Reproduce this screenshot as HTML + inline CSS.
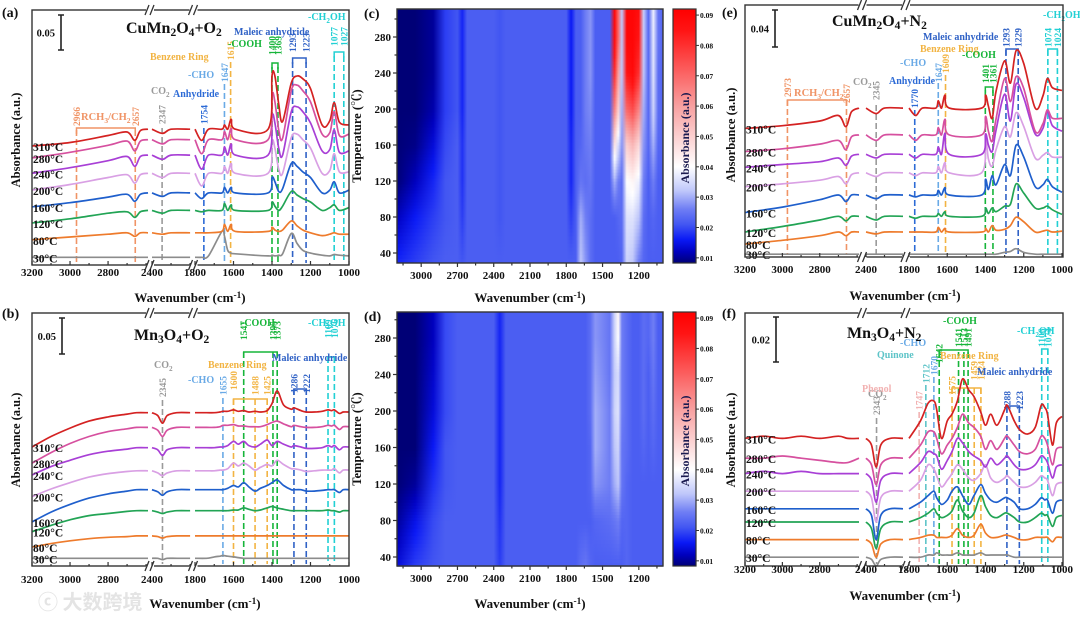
<!DOCTYPE html>
<html><head><meta charset="utf-8">
<style>
html,body{margin:0;padding:0;background:#fff;}
svg{display:block;font-family:"Liberation Serif","Noto Serif CJK SC",serif;font-weight:bold;}
</style></head>
<body>
<svg id="fig" width="1080" height="618" viewBox="0 0 1080 618" xmlns="http://www.w3.org/2000/svg">
<rect x="0" y="0" width="1080" height="618" fill="#fff"/>
<defs id="defs"></defs>
</svg>
<script>
// ---------- spectral data (milli-absorbance units) ----------
const GRID_A = [3200,3000,2800,2700,2660,2630,2590, 2400,2345,2300,2200, 1800,1765,1730,1660,1647,1630,1612,1590,1420,1400,1385,1365,1345,1300,1270,1240,1200,1140,1100,1077,1050,1000];
const GRID_B = [3200,3100,3000,2900,2800,2700,2650,2590, 2400,2370,2345,2320,2270,2200, 1800,1740,1700,1670,1655,1630,1600,1575,1547,1520,1488,1460,1425,1400,1373,1340,1300,1286,1250,1222,1180,1140,1109,1090,1076,1050,1030,1000];
const TEMP_LABELS = ['30°C','80°C','120°C','160°C','200°C','240°C','280°C','310°C'];

// (a) CuMn2O4 + O2
const PA_30  = [0,0,0,0,0,0,0, 0,0,0,0, 0,0,2,37,30,10,6,5,2,3,2,3,5,34,20,10,6,3,2,4,3,2];
const PA_80  = [0,4,8,10,5,10,10, 10,8,10,10, 10,10,10,12,22,12,22,12,12,18,14,12,14,27,20,14,10,6,8,10,8,8];
const PA_120 = [0,6,14,16,8,16,18, 18,14,18,18, 18,16,18,18,28,18,26,18,18,30,24,18,24,45,40,35,30,18,22,26,18,22];
const PA_160 = [0,6,14,18,8,18,20, 20,15,20,20, 20,12,20,20,28,20,28,20,20,42,36,22,26,62,58,50,42,20,24,36,20,24];
const PA_200 = [0,8,18,22,10,22,24, 24,18,24,24, 24,6,24,24,34,24,38,24,24,70,60,30,24,75,80,72,60,24,28,52,26,26];
const PA_240 = [0,8,18,24,10,24,26, 26,20,26,26, 26,6,26,26,38,26,42,26,26,82,72,36,26,88,95,88,72,32,34,62,30,32];
const PA_280 = [0,8,18,24,10,24,26, 26,20,26,26, 26,6,26,26,38,26,42,26,26,90,80,40,28,96,104,96,80,34,36,66,32,34];
const PA_310 = [0,5,15,20,8,22,24, 24,18,24,24, 24,8,24,24,30,24,38,24,24,100,100,60,35,90,100,96,82,30,36,62,34,30];
const PA_OFFSETS = [11,36,60,83,107,131,153,170];

// (b) Mn3O4 + O2
const PB_30  = [0,0,0,0,0,0,0,0, 0,0,-2,0,0,0, 0,0,2,3,4,3,2,1,0,0,0,0,0,0,0,0,0,0,0,0,0,0,0,0,0,0,0,0];
const PB_80  = [0,5,9,12,14,15,16,16, 16,15,13,15,16,16, 16,16,16,16,16,16,16,16,16,16,16,16,16,16,16,16,16,16,16,16,16,16,16,16,16,16,16,16];
const PB_120 = [0,9,17,23,26,29,30,30, 30,28,26,28,30,30, 30,30,30,30,30,30,31,31,34,32,30,31,34,36,34,32,30,30,30,30,30,30,31,30,30,28,30,30];
const PB_160 = [0,14,25,34,40,44,46,46, 46,43,38,43,46,46, 46,46,46,46,46,48,52,50,56,50,44,48,52,56,60,52,46,46,46,44,44,45,46,46,46,42,46,46];
const PB_200 = [0,11,20,28,33,36,37,37, 37,34,30,34,37,37, 37,37,37,38,38,40,48,44,48,44,38,42,46,44,52,46,40,40,38,36,37,38,38,38,40,34,38,38];
const PB_240 = [0,12,21,29,34,37,39,39, 39,36,28,36,39,39, 39,39,39,40,40,42,48,44,48,42,40,44,50,42,48,44,40,42,40,38,38,39,42,40,42,36,40,40];
const PB_280 = [0,15,28,38,45,49,51,51, 51,47,38,47,51,51, 51,51,51,52,54,54,55,53,53,52,52,52,55,58,60,56,52,54,52,51,51,52,54,53,54,48,52,52];
const PB_310 = [0,15,27,37,43,47,49,49, 49,45,34,45,49,49, 49,49,49,50,51,51,53,51,52,50,51,50,52,62,80,60,54,56,52,50,50,51,53,52,53,48,50,50];
const PB_OFFSETS = [11,27,49,63,99,130,147,170];

// (e) CuMn2O4 + N2
const PE_30  = [0,0,0,0,0,0,0, 0,0,0,0, 0,0,0,0,0,0,0,0,0,0,0,0,0,2,3,6,2,0,0,0,0,0];
const PE_80  = [0,4,9,13,9,13,13, 13,11,13,13, 13,13,13,13,18,13,17,13,13,17,13,20,15,16,20,29,24,13,14,15,13,14];
const PE_120 = [0,6,13,17,12,17,17, 17,13,17,17, 17,15,17,17,20,17,22,17,17,26,20,26,22,28,30,52,42,26,26,28,24,19];
const PE_160 = [0,6,14,19,12,19,19, 19,15,19,19, 19,17,19,19,24,19,27,19,19,36,25,40,30,52,40,73,60,28,30,36,28,22];
const PE_200 = [0,3,7,11,3,13,15, 15,11,15,15, 15,12,15,15,22,15,26,15,15,51,30,22,40,65,54,80,65,31,34,37,32,32];
const PE_240 = [0,3,6,10,2,12,14, 14,10,14,14, 14,10,14,14,22,14,37,14,14,36,24,17,40,79,50,90,75,36,42,60,45,39];
const PE_280 = [0,3,8,12,2,16,18, 18,12,18,18, 18,12,18,18,26,18,35,18,18,38,22,11,35,79,54,81,68,22,30,45,36,36];
const PE_310 = [0,3,8,14,2,18,22, 22,16,22,22, 22,14,22,22,30,22,36,22,22,36,24,11,40,73,49,84,70,22,35,54,44,41];
const PE_OFFSETS = [3,14,27,48,76,97,114,139];

// (f) Mn3O4 + N2
const PF_30  = [0,0,0,0,0,0,0,0, 0,-1,-4,-1,0,0, 0,0,1,1,2,1,1,1,2,1,1,1,2,1,1,1,1,1,0,0,0,0,0,0,0,0,0,0];
const PF_80  = [0,0,0,0,0,0,0,0, 0,-2,-8,-2,0,0, 0,1,2,2,1,1,1,2,5,2,1,2,7,3,1,1,2,2,1,0,0,1,1,1,1,-1,1,1];
const PF_120 = [0,0,0,0,0,0,0,0, 0,-3,-12,-3,0,0, 0,2,4,6,4,2,3,5,10,5,2,4,12,7,3,2,4,4,2,0,0,2,4,3,3,-2,2,3];
const PF_160 = [0,0,0,0,0,0,0,0, 0,-3,-14,-3,0,0, 0,3,6,8,5,2,4,8,10,6,2,6,11,7,4,3,5,5,3,0,0,2,5,4,4,-2,3,4];
const PF_200 = [0,0,0,0,0,0,0,0, 0,-3,-14,-3,0,0, 0,5,12,10,7,2,5,8,12,10,6,5,8,12,6,4,6,7,4,2,2,4,7,6,5,-2,3,4];
const PF_240 = [0,1,0,1,0,0,0,0, 0,-3,-13,-3,0,0, 0,5,10,9,8,2,6,10,16,14,10,8,6,3,7,4,7,8,4,2,2,4,8,7,5,-2,3,4];
const PF_280 = [0,0,1,0,-1,-2,-2,0, 0,-3,-12,-3,0,0, 0,6,12,12,9,2,6,9,14,20,16,14,10,4,8,4,9,10,6,3,2,4,10,9,6,-3,4,5];
const PF_310 = [0,1,0,1,0,1,0,0, 0,-3,-13,-3,0,0, 0,8,16,17,13,0,8,11,17,27,22,19,12,6,11,6,13,15,8,4,2,5,15,14,11,-3,7,10];
const PF_OFFSETS = [4,12,20,26,34,42,49,58];

// ---------- heatmap data (a.u.) ----------
const HM_COLS = [3200,3050,2900,2800,2700,2660,2620,2400,2350,2300,1800,1760,1720,1680,1640,1600,1560,1440,1400,1370,1340,1300,1250,1200,1160,1120,1080,1040,1000];
const HM_TEMPS = [30,80,120,160,200,240,280,310];
const HC_30  = [.017,.019,.021,.022,.022,.021,.022,.022,.022,.022,.022,.022,.022,.032,.028,.024,.022,.022,.022,.022,.023,.034,.032,.026,.023,.022,.022,.022,.022];
const HC_80  = [.012,.016,.019,.021,.022,.019,.022,.022,.021,.022,.022,.019,.022,.030,.026,.024,.022,.022,.022,.023,.024,.036,.036,.032,.024,.022,.023,.022,.022];
const HC_120 = [.008,.012,.017,.021,.022,.018,.022,.022,.021,.022,.022,.017,.022,.025,.024,.025,.022,.022,.030,.026,.024,.040,.042,.038,.026,.022,.026,.022,.022];
const HC_160 = [.008,.009,.014,.020,.022,.018,.022,.022,.021,.022,.022,.017,.022,.023,.025,.026,.022,.022,.045,.035,.028,.050,.055,.048,.028,.023,.030,.023,.023];
const HC_200 = [.008,.008,.011,.019,.021,.017,.022,.022,.021,.022,.022,.016,.022,.022,.026,.027,.022,.022,.065,.050,.030,.070,.075,.065,.030,.023,.034,.024,.023];
const HC_240 = [.008,.008,.010,.019,.021,.017,.022,.022,.021,.022,.022,.016,.022,.022,.026,.028,.022,.022,.080,.060,.032,.085,.090,.080,.032,.023,.036,.024,.023];
const HC_280 = [.008,.008,.010,.019,.021,.017,.022,.022,.021,.022,.022,.016,.022,.022,.026,.028,.022,.022,.090,.070,.032,.092,.092,.085,.033,.023,.037,.025,.023];
const HC_310 = [.008,.008,.010,.019,.021,.017,.022,.022,.021,.022,.022,.016,.022,.022,.026,.028,.022,.022,.092,.070,.032,.092,.092,.088,.033,.023,.038,.025,.023];
const HD_30  = [.014,.019,.021,.022,.022,.022,.022,.022,.019,.022,.022,.022,.022,.024,.025,.023,.022,.022,.022,.022,.022,.023,.022,.022,.022,.022,.022,.022,.022];
const HD_80  = [.010,.015,.020,.022,.022,.022,.022,.022,.018,.022,.022,.022,.022,.022,.022,.022,.023,.024,.025,.026,.023,.023,.022,.022,.022,.022,.022,.022,.022];
const HD_120 = [.008,.010,.018,.021,.022,.022,.022,.022,.017,.022,.022,.022,.022,.022,.022,.023,.028,.026,.030,.032,.025,.023,.022,.022,.022,.022,.022,.022,.022];
const HD_160 = [.008,.008,.016,.021,.022,.022,.022,.022,.017,.022,.022,.022,.022,.022,.022,.023,.030,.026,.032,.034,.025,.024,.022,.022,.023,.022,.023,.022,.022];
const HD_200 = [.008,.008,.014,.020,.022,.022,.022,.022,.017,.022,.022,.022,.022,.022,.022,.024,.030,.026,.034,.036,.026,.024,.022,.022,.024,.022,.024,.022,.022];
const HD_240 = [.008,.008,.013,.020,.022,.022,.022,.022,.017,.022,.022,.022,.022,.022,.022,.024,.029,.025,.033,.035,.026,.024,.022,.022,.024,.022,.025,.022,.022];
const HD_280 = [.008,.008,.012,.020,.022,.022,.022,.022,.017,.022,.022,.022,.022,.022,.022,.024,.028,.025,.034,.040,.026,.024,.022,.022,.024,.023,.026,.022,.022];
const HD_310 = [.008,.008,.012,.020,.022,.022,.022,.022,.017,.022,.022,.022,.022,.022,.022,.024,.028,.025,.034,.042,.026,.024,.022,.022,.024,.023,.026,.022,.022];
const CB_TICKS = [0.01,0.02,0.03,0.04,0.05,0.06,0.07,0.08,0.09];
const HM_XTICKS = [3000,2700,2400,2100,1800,1500,1200];
const HM_YTICKS = [40,80,120,160,200,240,280];
const SPEC_XTICKS = [3200,3000,2800,2400,1800,1600,1400,1200,1000];

// ---------- helpers ----------
const NS='http://www.w3.org/2000/svg';
const svg=document.getElementById('fig');
const defs=document.getElementById('defs');
function el(tag,attrs,parent){const e=document.createElementNS(NS,tag);for(const k in attrs)e.setAttribute(k,attrs[k]);(parent||svg).appendChild(e);return e;}
function rich(str,attrs,parent){
  const t=el('text',attrs,parent);
  const re=/_(.)|\^\{([^}]*)\}/g; let last=0,m,shift=0;
  const add=(s,kind)=>{ if(!s)return; const ts=el('tspan',{},t); let dy=0;
    if(kind==='sub'){dy=3-shift;shift=3;ts.setAttribute('font-size','0.72em');}
    else if(kind==='sup'){dy=-4-shift;shift=-4;ts.setAttribute('font-size','0.72em');}
    else {dy=-shift;shift=0;}
    if(dy)ts.setAttribute('dy',dy); ts.textContent=s; };
  while((m=re.exec(str))){ add(str.slice(last,m.index),'n'); if(m[1]!==undefined)add(m[1],'sub'); else add(m[2],'sup'); last=m.index+m[0].length; }
  add(str.slice(last),'n');
  return t;
}
function smooth(pts){
  if(!pts.length)return '';
  let d='M'+pts[0][0].toFixed(1)+','+pts[0][1].toFixed(1);
  for(let i=0;i<pts.length-1;i++){
    const p0=pts[i-1]||pts[i],p1=pts[i],p2=pts[i+1],p3=pts[i+2]||p2;
    const c1=[p1[0]+(p2[0]-p0[0])/6,p1[1]+(p2[1]-p0[1])/6];
    const c2=[p2[0]-(p3[0]-p1[0])/6,p2[1]-(p3[1]-p1[1])/6];
    d+='C'+c1[0].toFixed(1)+','+c1[1].toFixed(1)+' '+c2[0].toFixed(1)+','+c2[1].toFixed(1)+' '+p2[0].toFixed(1)+','+p2[1].toFixed(1);
  }
  return d;
}
const COLORS=['#8c8c8c','#ee7b2c','#22a455','#1f5fcc','#d9a0e4','#a83fd6','#d6509f','#d42222'];
const C={salmon:'#f09466',gray:'#9a9a9a',blue:'#2d6bd6',lblue:'#6aaae6',yellow:'#f2b443',green:'#17b53a',mblue:'#3062c6',cyan:'#22d0d4',pink:'#f2b2b2',teal:'#5ec4c8'};

// ---------- spectral panel ----------
function spec(P){
  const g=el('g',{});
  
  
  const segIdx=wn=>P.segs.findIndex(s=>wn<=s[0]&&wn>=s[1]);
  const xOf=wn=>{const s=P.segs[segIdx(wn)];return s[2]+(s[0]-wn)/(s[0]-s[1])*(s[3]-s[2]);};
  const yOf=v=>P.bottom-v*P.scale;
  P.ann.forEach(a=>{
    const x=xOf(a[0]);
    const ln=el('line',{x1:x,x2:x,y1:a[3],y2:P.bottom-2,stroke:C[a[1]],'stroke-width':1.6,'stroke-dasharray':'6,3'},g);
    
    
    const t=el('text',{x:x+3.5,y:a[2],transform:'rotate(-90 '+(x+3.5)+' '+a[2]+')','font-size':9.5,fill:C[a[1]]},g);
    t.textContent=String(a[0]);
    
    
  });
  P.brackets.forEach(b=>{
    const x1=xOf(b[0]),x2=xOf(b[1]);
    const p=el('path',{d:'M'+x1+','+(b[2]+6)+'V'+b[2]+'H'+x2+'V'+(b[2]+6),fill:'none',stroke:C[b[3]],'stroke-width':1.5},g);
    
    
  });
  P.groups.forEach(q=>{
    const t=rich(q[0],{x:q[1],y:q[2],'font-size':q[4]||10,fill:C[q[3]]},g);
    
    
  });
  P.series.forEach((arr,i)=>{
    const off=P.offsets[i];
    const pieces=[[]];let cur=segIdx(P.grid[0]);
    P.grid.forEach((wn,j)=>{const s=segIdx(wn);if(s!==cur){pieces.push([]);cur=s;}pieces[pieces.length-1].push([xOf(wn),yOf(off+arr[j])]);});
    const p=el('path',{d:pieces.map(smooth).join(''),fill:'none',stroke:COLORS[i],'stroke-width':1.7,'stroke-linejoin':'round'},g);
    
    
    const t=el('text',{x:P.left+1,y:yOf(off)+5,'font-size':11.5,fill:'#111'},g);
    t.textContent=TEMP_LABELS[i];
    
    
  });
  const fr=el('rect',{x:P.left,y:P.top,width:P.right-P.left,height:P.bottom-P.top,fill:'none',stroke:'#333','stroke-width':1.4},g);
  
  
  for(let b=0;b<2;b++){
    const xb=(P.segs[b][3]+P.segs[b+1][2])/2;
    [P.top,P.bottom].forEach(yy=>{
      const w=el('rect',{x:xb-4,y:yy-2,width:8,height:4,fill:'#fff'},g);
      
      
      [-3,2].forEach(dx=>{const s=el('line',{x1:xb+dx-2,y1:yy+5,x2:xb+dx+2,y2:yy-5,stroke:'#333','stroke-width':1.3},g);
        
        });
    });
  }
  for(let wn=3200;wn>=1000;wn-=100){
    if(segIdx(wn)<0)continue;
    const x=xOf(wn);const major=SPEC_XTICKS.includes(wn);
    const tk=el('line',{x1:x,x2:x,y1:P.bottom,y2:P.bottom-(major?4:2),stroke:'#333','stroke-width':1.2},g);
    
    
  }
  SPEC_XTICKS.forEach(wn=>{
    const x=xOf(wn);
    const t=el('text',{x:x,y:P.tickY,'font-size':11,'text-anchor':'middle',fill:'#111'},g);
    t.textContent=String(wn);
    
    
  });
  const xl=rich('Wavenumber (cm^{-1})',{x:P.xlX,y:P.xlY,'font-size':13,'text-anchor':'middle',fill:'#111'},g);
  
  
  const yl=el('text',{x:P.ylX,y:P.ylY,'font-size':12.5,'text-anchor':'middle',fill:'#111',transform:'rotate(-90 '+P.ylX+' '+P.ylY+')'},g);
  yl.textContent='Absorbance (a.u.)';
  
  
  const tt=rich(P.title,{x:P.titleX,y:P.titleY,'font-size':16,fill:'#111'},g);
  
  
  const sb=el('path',{d:'M'+(P.sbX-3)+','+P.sbY0+'H'+(P.sbX+3)+'M'+P.sbX+','+P.sbY0+'V'+P.sbY1+'M'+(P.sbX-3)+','+P.sbY1+'H'+(P.sbX+3),stroke:'#222','stroke-width':1.6,fill:'none'},g);
  
  
  const sbt=el('text',{x:P.sbX-6,y:(P.sbY0+P.sbY1)/2+4,'font-size':10.5,'text-anchor':'end',fill:'#111'},g);
  sbt.textContent=P.sbLabel;
  
  
  const lt=el('text',{x:P.letterX,y:P.letterY,'font-size':14,fill:'#111'},g);
  lt.textContent=P.letter;
  
  
}

const SEG_L=[[3200,2590,32,148],[2400,2190,152,192],[1800,1000,195,349]];
const SEG_R=[[3200,2590,745,859],[2400,2200,866,903],[1800,1000,909,1062]];

spec({name:'panel-a',letter:'(a)',letterX:2,letterY:17,grid:GRID_A,series:[PA_30,PA_80,PA_120,PA_160,PA_200,PA_240,PA_280,PA_310],offsets:PA_OFFSETS,
  segs:SEG_L,left:32,right:349,top:10,bottom:265,scale:0.7,tickY:276,xlX:190,xlY:302,ylX:20,ylY:140,
  title:'CuMn_2O_4+O_2',titleX:126,titleY:33,sbX:61,sbY0:15,sbY1:50,sbLabel:'0.05',
  ann:[[2966,'salmon',126,130],[2657,'salmon',126,130],[2347,'gray',124,128],[1754,'blue',124,128],[1647,'lblue',82,84],[1615,'yellow',60,62],[1400,'green',55,67],[1369,'green',55,67],[1293,'mblue',52,62],[1223,'mblue',52,62],[1077,'cyan',46,56],[1027,'cyan',46,56]],
  brackets:[[2966,2657,128,'salmon'],[1400,1369,63,'green'],[1293,1223,58,'mblue'],[1077,1027,52,'cyan']],
  groups:[['RCH_3/CH_2',81,120,'salmon',10.5],['CO_2',151,94,'gray'],['Anhydride',173,97,'blue'],['-CHO',188,78,'lblue'],['Benzene Ring',150,60,'yellow'],['-COOH',228,47,'green'],['Maleic anhydride',234,35,'mblue'],['-CH_2OH',308,20,'cyan']]});

spec({name:'panel-b',letter:'(b)',letterX:2,letterY:318,grid:GRID_B,series:[PB_30,PB_80,PB_120,PB_160,PB_200,PB_240,PB_280,PB_310],offsets:PB_OFFSETS,
  segs:SEG_L,left:32,right:349,top:313,bottom:566,scale:0.7,tickY:583,xlX:205,xlY:608,ylX:20,ylY:440,
  title:'Mn_3O_4+O_2',titleX:134,titleY:340,sbX:62,sbY0:318,sbY1:354,sbLabel:'0.05',
  ann:[[2345,'gray',397,400],[1655,'lblue',395,398],[1600,'yellow',390,399],[1547,'green',340,352],[1488,'yellow',395,399],[1425,'yellow',395,399],[1395,'green',340,352],[1373,'green',340,352],[1286,'mblue',393,389],[1222,'mblue',393,389],[1109,'cyan',338,357],[1076,'cyan',338,357]],
  brackets:[[1600,1425,399,'yellow'],[1547,1373,352,'green'],[1286,1222,389,'mblue'],[1109,1076,357,'cyan']],
  groups:[['CO_2',154,368,'gray'],['-CHO',188,383,'lblue'],['Benzene Ring',208,368,'yellow'],['-COOH',241,326,'green'],['Maleic anhydride',272,361,'mblue'],['-CH_2OH',308,326,'cyan']]});

spec({name:'panel-e',letter:'(e)',letterX:722,letterY:17,grid:GRID_A,series:[PE_30,PE_80,PE_120,PE_160,PE_200,PE_240,PE_280,PE_310],offsets:PE_OFFSETS,
  segs:SEG_R,left:745,right:1063,top:5,bottom:257,scale:0.925,tickY:273,xlX:905,xlY:300,ylX:735,ylY:135,
  title:'CuMn_2O_4+N_2',titleX:832,titleY:26,sbX:775,sbY0:10,sbY1:47,sbLabel:'0.04',
  ann:[[2973,'salmon',97,100],[2657,'salmon',103,100],[2345,'gray',100,105],[1770,'blue',108,110],[1647,'lblue',82,83],[1609,'yellow',73,75],[1401,'green',83,90],[1361,'green',83,90],[1293,'mblue',47,50],[1229,'mblue',47,50],[1074,'cyan',47,50],[1024,'cyan',47,50]],
  brackets:[[2973,2657,100,'salmon'],[1401,1361,87,'green'],[1293,1229,49,'mblue'],[1074,1024,49,'cyan']],
  groups:[['RCH_3/CH_2',794,96,'salmon',10.5],['CO_2',853,85,'gray'],['Anhydride',889,84,'blue'],['-CHO',900,66,'lblue'],['Benzene Ring',920,52,'yellow'],['-COOH',962,58,'green'],['Maleic anhydride',923,40,'mblue'],['-CH_2OH',1043,18,'cyan']]});

spec({name:'panel-f',letter:'(f)',letterX:722,letterY:318,grid:GRID_B,series:[PF_30,PF_80,PF_120,PF_160,PF_200,PF_240,PF_280,PF_310],offsets:PF_OFFSETS,
  segs:SEG_R,left:745,right:1063,top:313,bottom:566,scale:2.2,tickY:573,xlX:905,xlY:600,ylX:735,ylY:440,
  title:'Mn_3O_4+N_2',titleX:847,titleY:338,sbX:776,sbY0:317,sbY1:362,sbLabel:'0.02',
  ann:[[2343,'gray',415,418],[1747,'pink',410,412],[1712,'teal',383,385],[1670,'lblue',375,377],[1642,'green',363,352],[1541,'green',347,352],[1513,'green',347,352],[1491,'green',347,352],[1575,'yellow',395,388],[1459,'yellow',380,388],[1424,'yellow',380,388],[1288,'mblue',410,407],[1223,'mblue',410,407],[1106,'cyan',347,349],[1074,'cyan',347,349]],
  brackets:[[1642,1491,350,'green'],[1575,1424,388,'yellow'],[1288,1223,406,'mblue'],[1106,1074,349,'cyan']],
  groups:[['CO_2',868,397,'gray'],['Phenol',862,392,'pink'],['Quinone',877,358,'teal'],['-CHO',900,346,'lblue'],['-COOH',943,324,'green'],['Benzene Ring',940,359,'yellow'],['Maleic anhydride',977,375,'mblue'],['-CH_2OH',1017,334,'cyan']]});

// ---------- heatmaps ----------
const CMAP=[[0.008,[0,0,118]],[0.012,[0,0,190]],[0.016,[10,25,245]],[0.021,[66,86,242]],[0.026,[110,125,244]],[0.032,[190,198,250]],[0.04,[255,255,255]],[0.06,[248,160,160]],[0.085,[255,20,20]],[0.095,[255,0,0]]];
function cmap(v){
  if(v<=CMAP[0][0])return 'rgb('+CMAP[0][1].join(',')+')';
  for(let i=1;i<CMAP.length;i++){if(v<=CMAP[i][0]){const a=CMAP[i-1],b=CMAP[i];const f=(v-a[0])/(b[0]-a[0]);return 'rgb('+a[1].map((c,k)=>Math.round(c+(b[1][k]-c)*f)).join(',')+')';}}
  return 'rgb(255,0,0)';
}
let gid=0;
function heat(H){
  const g=el('g',{});
  
  
  const X0=397,X1=663;
  const xOf=wn=>X0+(3200-wn)/2200*(X1-X0);
  const yOf=t=>H.y40-(t-40)*H.ty;
  const rows=H.rows;
  const bands=[];
  bands.push([29,30,rows[0]]);
  for(let i=0;i<HM_TEMPS.length-1;i++){
    const n=12;
    for(let k=0;k<n;k++){
      const f=(k+0.5)/n;
      const vals=rows[i].map((v,j)=>v+(rows[i+1][j]-v)*f);
      bands.push([HM_TEMPS[i]+(HM_TEMPS[i+1]-HM_TEMPS[i])*k/n,HM_TEMPS[i]+(HM_TEMPS[i+1]-HM_TEMPS[i])*(k+1)/n,vals]);
    }
  }
  bands.push([310,312,rows[rows.length-1]]);
  bands.forEach(b=>{
    const id='hg'+(gid++);
    const lg=el('linearGradient',{id:id,x1:0,y1:0,x2:1,y2:0},defs);
    HM_COLS.forEach((wn,j)=>{el('stop',{offset:((xOf(wn)-X0)/(X1-X0)).toFixed(4),'stop-color':cmap(b[2][j])},lg);});
    const ya=Math.max(yOf(b[1]),H.top),yb=Math.min(yOf(b[0]),H.bottom);
    const r=el('rect',{x:X0,y:ya.toFixed(2),width:X1-X0,height:(yb-ya+0.6).toFixed(2),fill:'url(#'+id+')'},g);
    
    
  });
  const fr=el('rect',{x:X0,y:H.top,width:X1-X0,height:H.bottom-H.top,fill:'none',stroke:'#333','stroke-width':1.4},g);
  
  
  for(let wn=3150;wn>=1050;wn-=150){
    const x=xOf(wn);const major=HM_XTICKS.includes(wn);
    const tk=el('line',{x1:x,x2:x,y1:H.bottom,y2:H.bottom+(major?4:2.5),stroke:'#333','stroke-width':1.2},g);
    
    
  }
  HM_XTICKS.forEach(wn=>{const t=el('text',{x:xOf(wn),y:H.bottom+16,'font-size':11,'text-anchor':'middle',fill:'#111'},g);t.textContent=String(wn);
    
    });
  for(let t=40;t<=300;t+=20){
    const y=yOf(t);const major=HM_YTICKS.includes(t);
    const tk=el('line',{x1:X0,x2:X0-(major?4:2.5),y1:y,y2:y,stroke:'#333','stroke-width':1.2},g);
    
    
  }
  HM_YTICKS.forEach(t=>{const tx=el('text',{x:X0-6,y:yOf(t)+4,'font-size':11,'text-anchor':'end',fill:'#111'},g);tx.textContent=String(t);
    
    });
  const xl=rich('Wavenumber (cm^{-1})',{x:530,y:H.xlY,'font-size':13,'text-anchor':'middle',fill:'#111'},g);
  
  
  const cy=(H.top+H.bottom)/2;
  const yl=el('text',{x:361,y:cy,'font-size':12.5,'text-anchor':'middle',fill:'#111',transform:'rotate(-90 361 '+cy+')'},g);
  yl.textContent='Temperature (℃)';
  
  
  const cid='cb'+(gid++);
  const cg=el('linearGradient',{id:cid,x1:0,y1:1,x2:0,y2:0},defs);
  const vmin=0.0083,vmax=0.092;
  CMAP.forEach(s=>{const o=Math.min(1,Math.max(0,(s[0]-vmin)/(vmax-vmin)));el('stop',{offset:o.toFixed(4),'stop-color':'rgb('+s[1].join(',')+')'},cg);});
  const cb=el('rect',{x:673,y:H.top,width:23,height:H.bottom-H.top,fill:'url(#'+cid+')',stroke:'#333','stroke-width':1.2},g);
  
  
  CB_TICKS.forEach(v=>{
    const y=H.bottom-(v-vmin)/(vmax-vmin)*(H.bottom-H.top);
    const tk=el('line',{x1:696,x2:699,y1:y,y2:y,stroke:'#333','stroke-width':1},g);
    
    
    const tx=el('text',{x:700,y:y+3,'font-size':7.5,fill:'#111'},g);
    tx.textContent=v.toFixed(2);
    
    
  });
  const cl=el('text',{x:689,y:cy+2,'font-size':12,'text-anchor':'middle',fill:'#1a1a50',transform:'rotate(-90 689 '+(cy+2)+')'},g);
  cl.textContent='Absorbance (a.u.)';
  
  
  const lt=el('text',{x:364,y:H.top+9,'font-size':14,fill:'#111'},g);
  lt.textContent=H.letter;
  
  
}
heat({name:'panel-c',letter:'(c)',rows:[HC_30,HC_80,HC_120,HC_160,HC_200,HC_240,HC_280,HC_310],top:9,bottom:263,y40:253,ty:0.9,xlY:302});
heat({name:'panel-d',letter:'(d)',rows:[HD_30,HD_80,HD_120,HD_160,HD_200,HD_240,HD_280,HD_310],top:312,bottom:566,y40:557,ty:0.9125,xlY:608});

const wm=el('text',{x:38,y:609,'font-size':20,fill:'#e4e4e4','font-family':'"WenQuanYi Zen Hei","Noto Sans CJK SC",sans-serif'});
wm.textContent='ⓒ 大数跨境';


</script>
</body></html>
